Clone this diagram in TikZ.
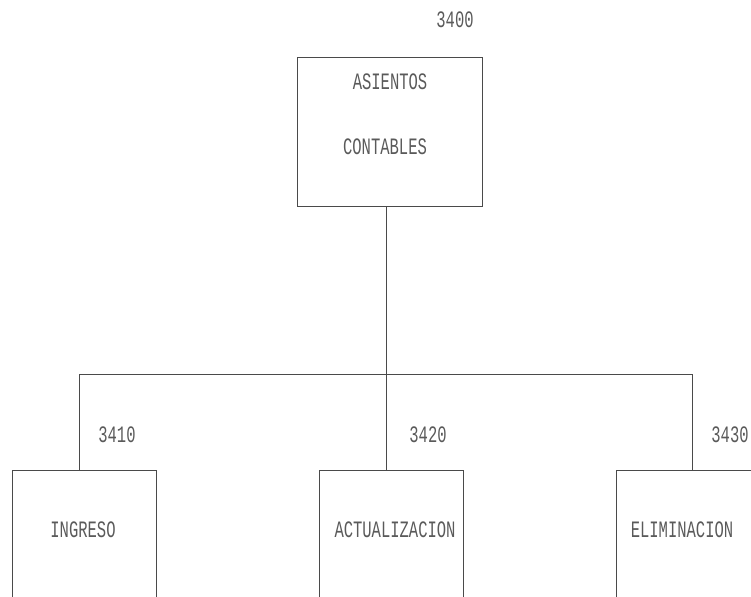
\documentclass[tikz,border=0pt]{standalone}
\usepackage{fontspec}
\setmainfont[FakeStretch=0.66]{Liberation Mono}
\definecolor{ink}{HTML}{4A4A4A}
\definecolor{txt}{HTML}{5A5A5A}
\tikzset{
  box/.style={draw=ink, line width=0.9pt, inner sep=0pt},
  lbl/.style={text=txt, font=\fontsize{23.5}{26}\selectfont, inner sep=0pt},
  conn/.style={draw=ink, line width=0.9pt}
}
\begin{document}
\begin{tikzpicture}[x=1pt,y=-1pt]
\useasboundingbox (0,0) rectangle (751,596);
\clip (0,0) rectangle (751,596);
% boxes
\node[box, minimum width=185pt, minimum height=149pt] (top) at (389.5,131.5) {};
\node[box, minimum width=144pt, minimum height=150pt] (a) at (84,545) {};
\node[box, minimum width=144pt, minimum height=150pt] (b) at (391,545) {};
\node[box, minimum width=144pt, minimum height=150pt] (c) at (688,545) {};
% texts
\node[lbl] (n0) at (455,20) {3400};
\node[lbl] (t1) at (390,82) {ASIENTOS};
\node[lbl] (t2) at (385,147) {CONTABLES};
\node[lbl] (n1) at (117,435) {3410};
\node[lbl] (n2) at (428,435) {3420};
\node[lbl] (n3) at (730,435) {3430};
\node[lbl] (ta) at (83,530) {INGRESO};
\node[lbl] (tb) at (395,530) {ACTUALIZACION};
\node[lbl] (tc) at (682,530) {ELIMINACION};
% connectors
\coordinate (j) at (386,374);
\coordinate (ja) at (79,374);
\coordinate (jc) at (692,374);
\draw[conn] (top.south -| j) -- (j);
\draw[conn] (ja) -- (jc);
\draw[conn] (a.north -| ja) -- (ja);
\draw[conn] (b.north -| j) -- (j);
\draw[conn] (c.north -| jc) -- (jc);
\end{tikzpicture}
\end{document}
